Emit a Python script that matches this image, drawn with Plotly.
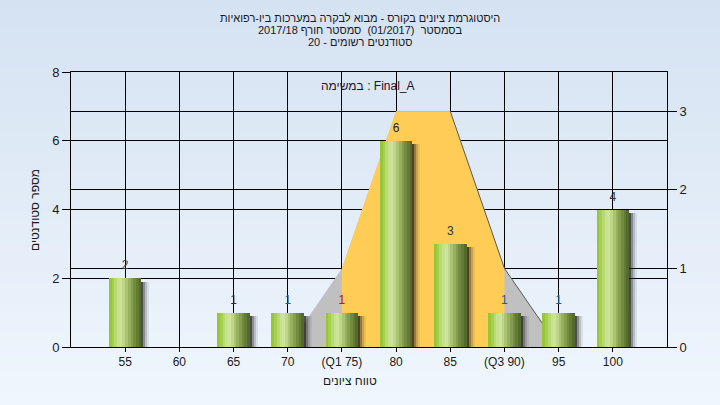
import plotly.graph_objects as go

# ---- data ----
grades = [55, 60, 65, 70, 75, 80, 85, 90, 95, 100]
tick_labels = ["55", "60", "65", "70", "(Q1 75)", "80", "85", "(Q3 90)", "95", "100"]
counts = [2, 0, 1, 1, 1, 6, 3, 1, 1, 4]
curve_x = [70, 75, 80, 85, 90, 95]
curve_y = [0, 1, 3, 3, 1, 0]
iqr_x = [75, 80, 85, 90]
iqr_y = [1, 3, 3, 1]
label_colors = ["#4a3a30", "#222222", "#5a1a10", "#3a5a70", "#b02020", "#222222", "#1a3a3a", "#2a5a80", "#2a5a80", "#3a3030"]

title_lines = [
    "היסטוגרמת ציונים בקורס - מבוא לבקרה במערכות ביו-רפואיות",
    "בסמסטר  (01/2017)  סמסטר חורף 2017/18",
    "סטודנטים רשומים - 20",
]
task_label = "במשימה : Final_A"
y_title = "מספר סטודנטים"
x_title = "טווח ציונים"

FONT = "Liberation Sans, Arial, DejaVu Sans, sans-serif"

fig = go.Figure()

# ---- distribution area (base y axis, right side) ----
fig.add_trace(go.Scatter(x=curve_x, y=curve_y, fill="toself", mode="none",
                         fillcolor="#c0c0c0", yaxis="y", hoverinfo="skip", showlegend=False))
fig.add_trace(go.Scatter(x=iqr_x + [iqr_x[-1], iqr_x[0]], y=iqr_y + [0, 0], fill="toself", mode="none",
                         fillcolor="#ffcc55", yaxis="y", hoverinfo="skip", showlegend=False))
fig.add_trace(go.Scatter(x=curve_x[3:], y=curve_y[3:], mode="lines",
                         line=dict(color="#5a5a5a", width=1), yaxis="y", hoverinfo="skip", showlegend=False))

# ---- bars (overlaying axis, left side) ----
bw = 3.0
px_x = 5 / 54.2  # x units per pixel
shadow_cols = ["rgba(20,20,20,0.75)", "rgba(40,40,40,0.5)", "rgba(70,70,70,0.3)", "rgba(90,90,90,0.12)"]
shadow_h = [max(c - 0.1, 0) for c in counts]
for i, col in enumerate(shadow_cols):
    fig.add_trace(go.Bar(x=grades, y=shadow_h, width=2 * px_x, offset=bw / 2 + i * 2 * px_x,
                         marker=dict(color=col, line=dict(width=0)), yaxis="y2",
                         hoverinfo="skip", showlegend=False))

grad = ["#98c63a", "#a6cf4e", "#b8da72", "#c6e290", "#cbe49a", "#bfd68a",
        "#aac372", "#97b060", "#859d4f", "#738a40", "#637b34", "#526a2a"]
n = len(grad)
for i, col in enumerate(grad):
    fig.add_trace(go.Bar(x=grades, y=counts, width=bw / n * 1.02, offset=-bw / 2 + i * bw / n,
                         marker=dict(color=col, line=dict(width=0)), yaxis="y2",
                         hoverinfo="skip", showlegend=False))

fig.add_trace(go.Scatter(x=grades, y=counts, mode="markers+text",
                         marker=dict(size=8, color="rgba(0,0,0,0)"),
                         text=[str(c) if c > 0 else "" for c in counts],
                         textposition="top center",
                         textfont=dict(family=FONT, size=12, color=label_colors),
                         yaxis="y2", hoverinfo="skip", showlegend=False))

# ---- page gradient background ----
shapes = []
nb = 40
y_top, y_bot = (347 - 0) / 275, (347 - 405) / 275
c0, c1 = (213, 226, 242), (239, 246, 253)
for k in range(nb):
    t = k / (nb - 1)
    col = "rgb(%d,%d,%d)" % tuple(round(c0[j] + (c1[j] - c0[j]) * t) for j in range(3))
    ya = y_top - (y_top - y_bot) * k / nb
    yb = y_top - (y_top - y_bot) * (k + 1) / nb
    shapes.append(dict(type="rect", xref="paper", yref="paper", x0=-0.2, x1=1.2,
                       y0=yb - 0.002, y1=ya + 0.002, fillcolor=col, line=dict(width=0), layer="below"))

annotations = []
for i, line in enumerate(title_lines):
    annotations.append(dict(text=line, xref="paper", yref="paper", x=(360 - 71) / 596,
                            y=(347 - (18 + 12 * i)) / 275, xanchor="center", yanchor="middle",
                            showarrow=False, font=dict(family=FONT, size=11, color="#1a1a22")))
annotations.append(dict(text=task_label, xref="paper", yref="paper", x=(368 - 71) / 596,
                        y=(347 - 86) / 275, xanchor="center", yanchor="middle", showarrow=False,
                        font=dict(family=FONT, size=12, color="#2a102a")))
annotations.append(dict(text=y_title, xref="paper", yref="paper", x=(35 - 71) / 596,
                        y=(347 - 210) / 275, xanchor="center", yanchor="middle", textangle=-90,
                        showarrow=False, font=dict(family=FONT, size=12, color="#1a1a22")))
annotations.append(dict(text=x_title, xref="paper", yref="paper", x=(350 - 71) / 596,
                        y=(347 - 381) / 275, xanchor="center", yanchor="middle",
                        showarrow=False, font=dict(family=FONT, size=12, color="#1a1a22")))

fig.update_layout(
    width=720, height=405,
    margin=dict(l=71, r=53, t=72, b=58),
    paper_bgcolor="#e2ecf8",
    plot_bgcolor="#b4b4b4",
    barmode="overlay",
    bargap=0,
    showlegend=False,
    shapes=shapes,
    annotations=annotations,
    xaxis=dict(range=[50, 105], tickvals=grades, ticktext=tick_labels,
               showgrid=True, gridcolor="black", gridwidth=1,
               showline=True, linecolor="black", linewidth=1, mirror=True,
               ticks="outside", ticklen=4, tickcolor="black", zeroline=False,
               tickfont=dict(family=FONT, size=12, color="#1a1a1a")),
    yaxis=dict(range=[0, 3.5], tickvals=[0, 1, 2, 3], side="right",
               showgrid=True, gridcolor="black", gridwidth=1,
               showline=True, linecolor="black", linewidth=1,
               ticks="outside", ticklen=9, tickcolor="black", zeroline=False,
               tickfont=dict(family=FONT, size=13, color="#1a1a1a")),
    yaxis2=dict(range=[0, 8], tickvals=[0, 2, 4, 6, 8], side="left", overlaying="y",
                showgrid=True, gridcolor="black", gridwidth=1,
                showline=True, linecolor="black", linewidth=1,
                ticks="outside", ticklen=8, tickcolor="black", zeroline=False,
                tickfont=dict(family=FONT, size=13, color="#1a1a1a")),
)

fig.write_html("out.html", config={"displayModeBar": False},
               post_script="document.body.style.margin='0';document.body.style.overflow='hidden';")
